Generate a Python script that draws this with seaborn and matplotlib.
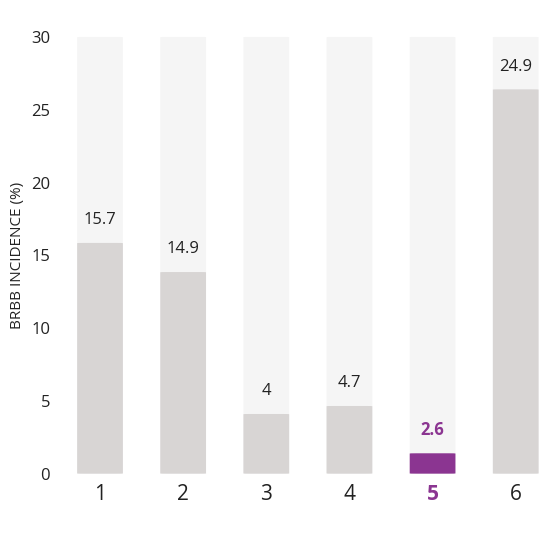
import matplotlib
matplotlib.use("Agg")
import matplotlib.pyplot as plt
import seaborn as sns
import pandas as pd
from matplotlib.patches import FancyBboxPatch

categories = ["1", "2", "3", "4", "5", "6"]
heights = [15.85, 13.85, 4.1, 4.65, 1.4, 26.4]
labels = ["15.7", "14.9", "4", "4.7", "2.6", "24.9"]
bg_max = [30] * 6
highlight = "5"

sns.set_theme(style="white")
plt.rcParams['font.family'] = ['Open Sans', 'DejaVu Sans']

df = pd.DataFrame({"cat": categories, "h": heights, "bg": bg_max})
fig = plt.figure(figsize=(5.52, 5.52), dpi=100)
ax = fig.add_axes([0.136, 0.134, 0.851, 0.807])

sns.barplot(data=df, x="cat", y="bg", color="#f5f5f5", width=0.55, ax=ax)
sns.barplot(data=df, x="cat", y="h", color="#d9d5d3", width=0.55, ax=ax)

purple = "#8b3591"
new = []
for i, p in enumerate(list(ax.patches)):
    x, y, w, h = p.get_x(), p.get_y(), p.get_width(), p.get_height()
    fc = p.get_facecolor()
    if i >= 6 and categories[i - 6] == highlight:
        fc = purple
    r = FancyBboxPatch((x, y), w, h, boxstyle="round,pad=0,rounding_size=0.08",
                       mutation_aspect=14.57 / 83, fc=fc, ec="none")
    p.remove()
    new.append(r)
for r in new:
    ax.add_patch(r)

for i, (c, h, l) in enumerate(zip(categories, heights, labels)):
    hl = c == highlight
    ax.text(i, h + 1.0, l, ha="center", va="bottom", fontsize=12,
            color=purple if hl else "#222222", fontweight="bold" if hl else "normal")

ax.set_xlim(-0.3, 5.35)
ax.set_ylim(-0.3, 30.3)
ax.set_yticks([0, 5, 10, 15, 20, 25, 30])
ax.tick_params(axis="y", labelsize=12, length=0, pad=18, colors="#222222")
ax.tick_params(axis="x", labelsize=15, length=0, pad=4, colors="#222222")
for t in ax.get_xticklabels():
    if t.get_text() == highlight:
        t.set_color(purple)
        t.set_fontweight("bold")
ax.set_xlabel("")
ax.set_ylabel("BRBB INCIDENCE (%)", fontsize=11, color="#222222", labelpad=4)
sns.despine(ax=ax, left=True, bottom=True)
fig.savefig("out.png", dpi=100)
